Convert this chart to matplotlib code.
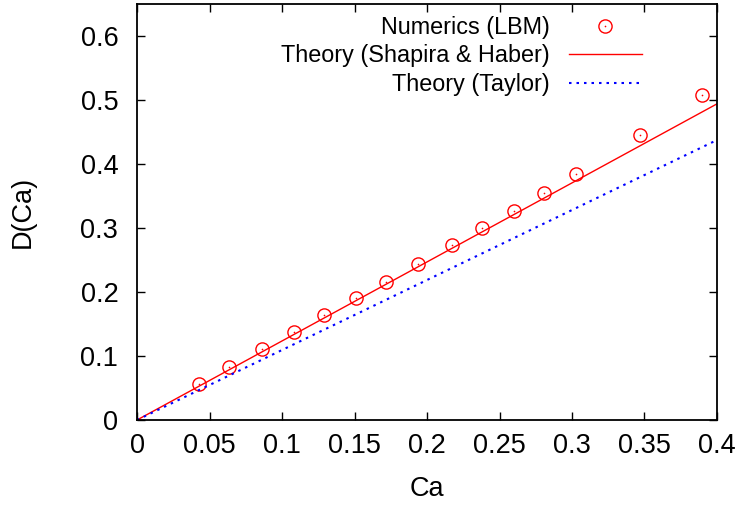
import matplotlib
matplotlib.use("Agg")
import matplotlib.pyplot as plt
from matplotlib.legend_handler import HandlerTuple

plt.rcParams['font.family'] = ['Liberation Sans', 'DejaVu Sans']

ca_lbm = [0.043, 0.0635, 0.086, 0.108, 0.129, 0.151, 0.172, 0.194, 0.217, 0.238, 0.260, 0.281, 0.303, 0.347, 0.390]
d_lbm = [0.056, 0.083, 0.111, 0.1375, 0.164, 0.190, 0.216, 0.244, 0.273, 0.300, 0.327, 0.355, 0.384, 0.445, 0.508]

ca_theory = [0.0, 0.4]
d_shapira = [0.0, 0.494]
d_taylor = [0.0, 0.4375]

xticks = [0, 0.05, 0.1, 0.15, 0.2, 0.25, 0.3, 0.35, 0.4]
xticklabels = ['0', '0.05', '0.1', '0.15', '0.2', '0.25', '0.3', '0.35', '0.4']
yticks = [0, 0.1, 0.2, 0.3, 0.4, 0.5, 0.6]
yticklabels = ['0', '0.1', '0.2', '0.3', '0.4', '0.5', '0.6']

fig = plt.figure(figsize=(7.43, 5.08), dpi=100)
ax = fig.add_axes([0.1844, 0.1732, 0.7806, 0.8189])

circ, = ax.plot(ca_lbm, d_lbm, linestyle='none', marker='o', markersize=9.5,
                markerfacecolor='none', markeredgecolor='#ff0000', markeredgewidth=1.0)
dot, = ax.plot(ca_lbm, d_lbm, linestyle='none', marker='o', markersize=1.2,
               markerfacecolor='#ff0000', markeredgecolor='#ff0000', markeredgewidth=0)
sh, = ax.plot(ca_theory, d_shapira, color='#ff0000', lw=1.0)
ty, = ax.plot(ca_theory, d_taylor, color='#0000ff', lw=1.5, linestyle=(0, (1.2, 2.4)))

ax.set_xlim(0, 0.4)
ax.set_ylim(0, 0.65)
ax.set_xticks(xticks)
ax.set_xticklabels(xticklabels)
ax.set_yticks(yticks)
ax.set_yticklabels(yticklabels)
ax.tick_params(direction='in', length=6, width=1.0, top=True, right=True,
               labelsize=19.5)
ax.tick_params(axis='x', pad=9.5)
ax.tick_params(axis='y', pad=13.5)
for s in ax.spines.values():
    s.set_linewidth(1.3)

ax.set_xlabel('Ca', fontsize=19.5, labelpad=12)
ax.set_ylabel('D(Ca)', fontsize=19.5, labelpad=32)

leg = ax.legend([(circ, dot), sh, ty],
                ['Numerics (LBM)', 'Theory (Shapira & Haber)', 'Theory (Taylor)'],
                handler_map={tuple: HandlerTuple(ndivide=1)},
                loc='upper right', bbox_to_anchor=(642 / 743, 1 - 16 / 508),
                bbox_transform=fig.transFigure, frameon=False,
                markerfirst=False, fontsize=16.8, handlelength=3.13,
                labelspacing=0.23, handletextpad=0.82, borderaxespad=0,
                borderpad=0)

fig.savefig('out.png', dpi=100)
